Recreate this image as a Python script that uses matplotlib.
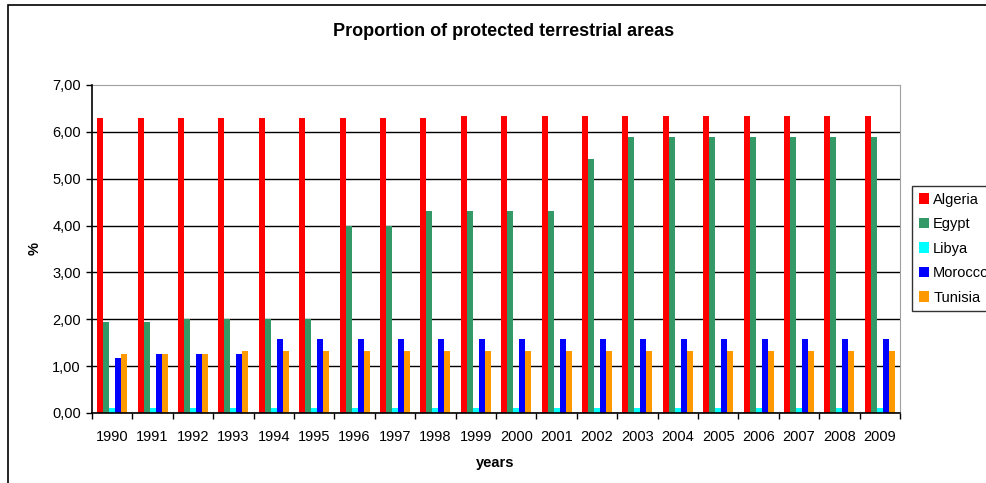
import numpy as np
import matplotlib
matplotlib.use("Agg")
import matplotlib.pyplot as plt
from matplotlib.patches import Rectangle, Patch

plt.rcParams["font.family"] = ["Liberation Sans", "DejaVu Sans"]

years = [str(y) for y in range(1990, 2010)]

algeria = [6.30] * 9 + [6.33] * 11
egypt = [1.94, 1.94, 2.00, 2.00, 2.00, 2.00, 4.00, 4.00, 4.31, 4.31,
         4.31, 4.31, 5.43, 5.89, 5.89, 5.89, 5.89, 5.89, 5.89, 5.89]
libya = [0.10] * 20
morocco = [1.18, 1.26, 1.26, 1.26] + [1.58] * 16
tunisia = [1.26, 1.26, 1.26] + [1.33] * 17

countries = ["Algeria", "Egypt", "Libya", "Morocco", "Tunisia"]
colors = ["#ff0000", "#339966", "#00ffff", "#0000ff", "#ff9900"]
series = [algeria, egypt, libya, morocco, tunisia]

fig = plt.figure(figsize=(9.87, 4.83), dpi=100)
ax = fig.add_axes([92 / 987, 1 - 413 / 483, 808 / 987, 328 / 483])

x = np.arange(len(years))
w = 0.149
for k, (vals, c) in enumerate(zip(series, colors)):
    ax.bar(x + (k - 2) * w, vals, width=w, color=c, linewidth=0, zorder=3)

ax.set_xlim(-0.5, len(years) - 0.5)
ax.set_ylim(0, 7)
ax.set_yticks(np.arange(0, 8, 1))
ax.set_yticklabels([f"{v:.2f}".replace(".", ",") for v in range(0, 8)], fontsize=10.5)
ax.set_xticks(x)
ax.set_xticklabels(years, fontsize=10.5)
ax.set_xticks(np.arange(-0.5, len(years), 1), minor=True)
ax.tick_params(axis="x", which="major", length=0, pad=12)
ax.tick_params(axis="x", which="minor", length=4, width=1, direction="out")
ax.tick_params(axis="y", length=4, width=1, direction="out", pad=4)

ax.yaxis.grid(True, color="black", linewidth=1, zorder=1)
ax.set_axisbelow(True)
for sp in ["top", "right"]:
    ax.spines[sp].set_color("#a0a0a0")
for sp in ["left", "bottom"]:
    ax.spines[sp].set_color("black")
    ax.spines[sp].set_linewidth(1.2)
    ax.spines[sp].set_zorder(4)

fig.text(495 / 987, 1 - 463 / 483, "years", fontsize=10.5, fontweight="bold",
         ha="center", va="center")
fig.text(35 / 987, 1 - 248 / 483, "%", fontsize=10.5, fontweight="bold",
         rotation=90, ha="center", va="center")
fig.text(504 / 987, 1 - 32 / 483, "Proportion of protected terrestrial areas",
         fontsize=13, fontweight="bold", ha="center", va="center")

handles = [Patch(facecolor=c, edgecolor="none") for c in colors]
leg = fig.legend(handles, countries, loc="upper left",
                 bbox_to_anchor=(912 / 987, 1 - 186 / 483),
                 fontsize=10.5, frameon=True, fancybox=False, shadow=False,
                 handlelength=0.7, handleheight=0.7, handletextpad=0.3,
                 labelspacing=0.72, borderpad=0.45, borderaxespad=0)
leg.get_frame().set_edgecolor("black")
leg.get_frame().set_linewidth(1)

# outer chart frame, cut off at right and bottom
fig.patches.append(Rectangle((8 / 987, -0.2), 1.2, 1.2 - 5 / 483,
                             transform=fig.transFigure, fill=False,
                             edgecolor="black", linewidth=1.2))

fig.canvas.draw()
ax.get_ygridlines()[-1].set_visible(False)

fig.savefig("out.png", dpi=100)
